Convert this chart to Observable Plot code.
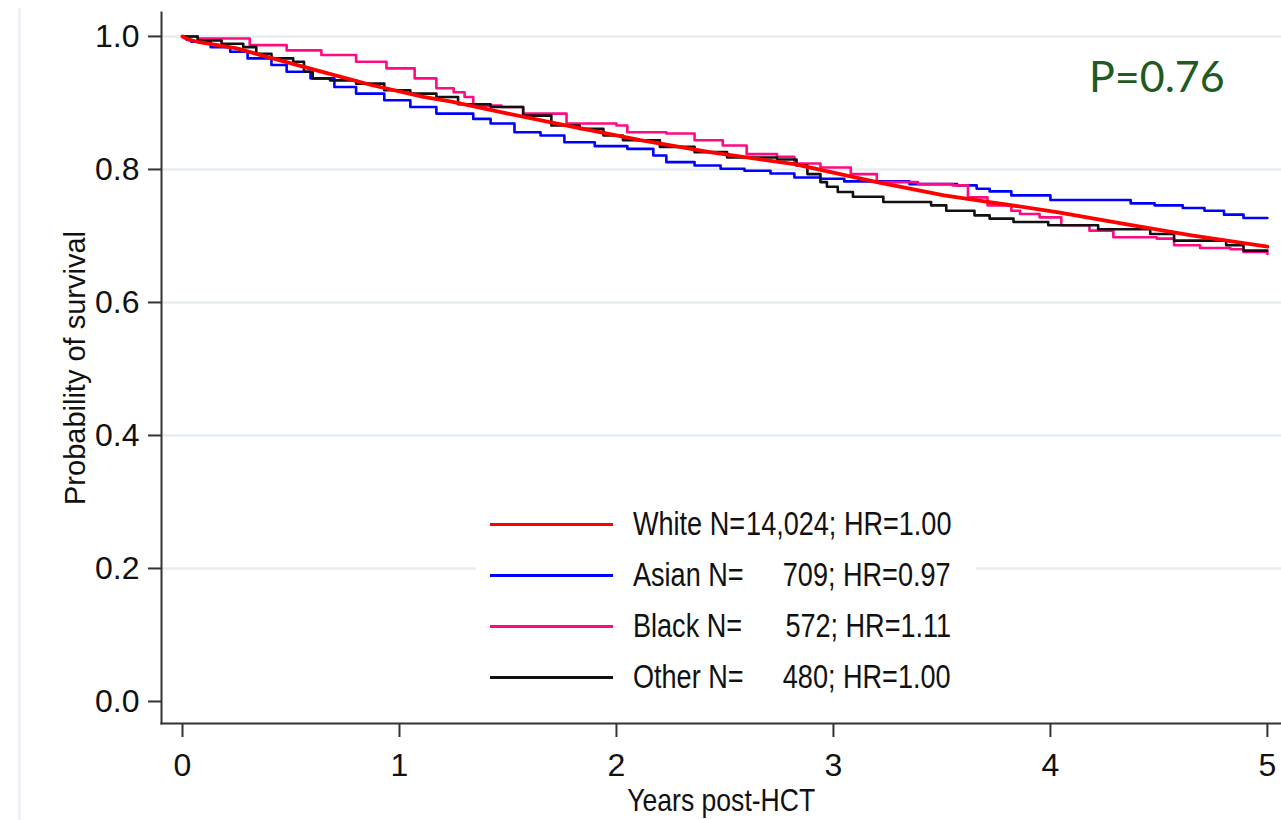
<!DOCTYPE html>
<html><head><meta charset="utf-8">
<script src="https://cdn.jsdelivr.net/npm/d3@7"></script>
<script src="https://cdn.jsdelivr.net/npm/@observablehq/plot@0.6"></script>
<style>
body{margin:0;background:#fff;}
#wrap{position:relative;width:1281px;height:820px;overflow:hidden;background:#fff;}
.ar{font-family:"Liberation Sans",Arial,sans-serif;color:#111;}
#edge{position:absolute;left:18px;top:8px;width:3px;height:812px;background:#eef2f6;}
#legend{position:absolute;left:476px;top:497px;width:500px;height:205px;background:#fff;}
.row{position:absolute;left:0;width:500px;height:40px;}
.sw{position:absolute;left:14px;width:123px;height:3px;top:-1.5px;}
.nm{position:absolute;left:157px;top:-19px;font-size:33px;line-height:38px;white-space:pre;transform:scaleX(0.82);transform-origin:0 50%;}
.st{position:absolute;right:25px;top:-19px;font-size:33px;line-height:38px;white-space:pre;text-align:right;transform:scaleX(0.82);transform-origin:100% 50%;}
#pval{position:absolute;left:1089px;top:52px;font-family:Lato,"Open Sans",sans-serif;font-size:43px;color:#1f5a22;line-height:48px;}
#xt{position:absolute;left:161px;width:1120px;top:781px;text-align:center;font-size:32px;line-height:38px;}
#xt span{display:inline-block;transform:scaleX(0.83);}
#yt{position:absolute;left:75px;top:368px;transform:translate(-50%,-50%) rotate(-90deg);font-size:29px;white-space:nowrap;}
</style></head><body><div id="wrap"><div id="edge"></div></div>
<script>
const groups = ["White","Asian","Black","Other"];
const groupColors = ["#ff0000","#0000ff","#ff0a80","#111111"];
const legendNames = ["White N=","Asian N=","Black N=","Other N="];
const legendStats = ["14,024; HR=1.00","709; HR=0.97","572; HR=1.11","480; HR=1.00"];
const pValueLabel = "P=0.76";
const xTitle = "Years post-HCT";
const yTitle = "Probability of survival";
const xTicks = [0,1,2,3,4,5];
const yTicks = [0,0.2,0.4,0.6,0.8,1.0];
const gridValues = [0.2,0.4,0.6,0.8,1.0];

const whiteTime = [0,0.03,0.07,0.25,0.45,0.64,0.87,1.11,1.24,1.50,1.80,2.11,2.43,2.82,3.20,3.51,3.72,4.03,4.34,4.65,5.0];
const whiteSurv = [1.0,0.995,0.992,0.982,0.964,0.947,0.927,0.909,0.902,0.884,0.864,0.844,0.826,0.808,0.781,0.761,0.751,0.736,0.718,0.701,0.684];

const asianTime = [0,0.02,0.04,0.13,0.22,0.30,0.41,0.48,0.59,0.70,0.80,0.93,1.05,1.17,1.34,1.42,1.53,1.65,1.76,1.90,2.05,2.17,2.23,2.36,2.48,2.59,2.71,2.82,2.94,3.05,3.35,3.57,3.66,3.72,3.82,4.0,4.37,4.48,4.61,4.71,4.80,4.89,5.0];
const asianSurv = [1.0,0.995,0.992,0.984,0.977,0.967,0.957,0.947,0.937,0.924,0.914,0.904,0.894,0.884,0.876,0.869,0.856,0.851,0.841,0.835,0.831,0.821,0.811,0.806,0.801,0.798,0.794,0.788,0.786,0.782,0.778,0.776,0.771,0.767,0.761,0.754,0.749,0.746,0.742,0.738,0.732,0.727,0.727];

const blackTime = [0,0.07,0.31,0.48,0.64,0.80,0.94,1.07,1.17,1.25,1.30,1.34,1.47,1.57,1.77,2.0,2.05,2.23,2.36,2.49,2.60,2.74,2.82,2.94,3.08,3.20,3.39,3.55,3.62,3.71,3.82,3.86,3.95,4.05,4.18,4.29,4.49,4.57,4.69,4.83,4.89,5.0];
const blackSurv = [1.0,0.997,0.987,0.979,0.972,0.962,0.952,0.937,0.922,0.916,0.909,0.896,0.894,0.884,0.869,0.866,0.856,0.854,0.844,0.836,0.823,0.819,0.809,0.803,0.793,0.781,0.778,0.776,0.758,0.746,0.738,0.733,0.728,0.716,0.708,0.698,0.696,0.686,0.682,0.680,0.676,0.673];

const otherTime = [0,0.07,0.18,0.28,0.34,0.41,0.51,0.56,0.60,0.68,0.80,0.93,1.05,1.17,1.27,1.42,1.57,1.70,1.83,1.94,2.03,2.20,2.36,2.51,2.74,2.83,2.88,2.94,2.97,3.02,3.09,3.23,3.45,3.52,3.65,3.72,3.83,3.99,4.22,4.46,4.57,4.81,4.89,5.0];
const otherSurv = [1.0,0.994,0.989,0.984,0.974,0.967,0.962,0.947,0.937,0.934,0.929,0.919,0.914,0.909,0.898,0.894,0.881,0.866,0.861,0.851,0.844,0.834,0.826,0.818,0.815,0.806,0.793,0.781,0.774,0.766,0.759,0.751,0.746,0.738,0.731,0.726,0.721,0.716,0.710,0.703,0.693,0.686,0.678,0.678];

const toRows = (g, ts, ss) => ts.map((t, i) => ({group: g, t, s: ss[i]}));
const series = [
  toRows("Asian", asianTime, asianSurv),
  toRows("Black", blackTime, blackSurv),
  toRows("Other", otherTime, otherSurv)
];
const white = toRows("White", whiteTime, whiteSurv);
const colorOf = g => groupColors[groups.indexOf(g)];

const chart = Plot.plot({
  width: 1281, height: 820,
  marginLeft: 161, marginRight: 0, marginTop: 12, marginBottom: 97,
  x: {domain: [-0.0968, 5.065]},
  y: {domain: [-0.0331, 1.036]},
  style: {fontFamily: '"Liberation Sans",Arial,sans-serif', fontSize: "32px", color: "#111", background: "transparent", overflow: "visible"},
  marks: [
    Plot.ruleY(gridValues, {stroke: "#e5edf0", strokeWidth: 2.5}),
    Plot.frame({anchor: "left", stroke: "#333", strokeWidth: 2}),
    Plot.frame({anchor: "bottom", stroke: "#333", strokeWidth: 2}),
    Plot.axisY(yTicks, {tickSize: 13, tickPadding: 9, tickFormat: d => d.toFixed(1), label: null, stroke: "#333", strokeWidth: 2, fontSize: 32, ariaLabel: "y-axis"}),
    Plot.axisX(xTicks, {tickSize: 14, tickPadding: 16, tickFormat: d => String(d), label: null, stroke: "#333", strokeWidth: 2, fontSize: 32, ariaLabel: "x-axis"}),
    ...series.map(rows => Plot.line(rows, {x: "t", y: "s", stroke: colorOf(rows[0].group), curve: "step-after", strokeWidth: 2.6})),
    Plot.line(white, {x: "t", y: "s", stroke: colorOf("White"), curve: "linear", strokeWidth: 3.8})
  ]
});
chart.style.position = "absolute";
chart.style.left = "0";
chart.style.top = "0";
// condense tick labels horizontally to match the reference's narrow glyphs
chart.querySelectorAll("g[aria-label='y-axis'] text, g[aria-label='x-axis'] text").forEach(t => {
  const tr = t.getAttribute("transform") || "";
  t.setAttribute("transform", tr + " scale(0.8,1)");
});
const wrap = document.getElementById("wrap");
wrap.appendChild(chart);

const legend = document.createElement("div");
legend.id = "legend";
groups.forEach((g, i) => {
  const row = document.createElement("div");
  row.className = "row ar";
  row.style.top = (27 + i * 51) + "px";
  const sw = document.createElement("div");
  sw.className = "sw";
  sw.style.background = groupColors[i];
  const nm = document.createElement("div");
  nm.className = "nm";
  nm.textContent = legendNames[i];
  const st = document.createElement("div");
  st.className = "st";
  st.textContent = legendStats[i];
  row.append(sw, nm, st);
  legend.appendChild(row);
});
wrap.appendChild(legend);

const pv = document.createElement("div");
pv.id = "pval"; pv.textContent = pValueLabel;
wrap.appendChild(pv);
const xt = document.createElement("div");
xt.id = "xt"; xt.className = "ar";
const xs = document.createElement("span"); xs.textContent = xTitle; xt.appendChild(xs);
wrap.appendChild(xt);
const yt = document.createElement("div");
yt.id = "yt"; yt.className = "ar"; yt.textContent = yTitle;
wrap.appendChild(yt);
</script></body></html>
